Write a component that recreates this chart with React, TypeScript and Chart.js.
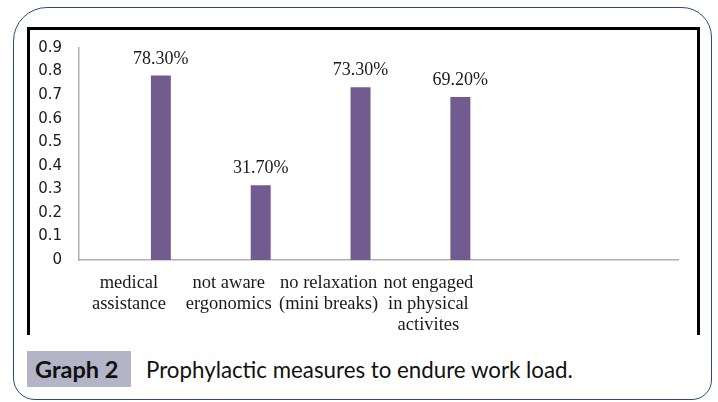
import React, { useEffect, useRef } from "react";
import { Chart, registerables } from "chart.js";

Chart.register(...registerables);

const categories: (string | string[])[] = [
  ["medical", "assistance"],
  ["not aware", "ergonomics"],
  ["no relaxation", "(mini breaks)"],
  ["not engaged", "in physical", "activites"],
  "",
  "",
];
const emptySeriesA: (number | null)[] = [null, null, null, null, null, null];
const emptySeriesB: (number | null)[] = [null, null, null, null, null, null];
const measureValues: (number | null)[] = [0.783, 0.317, 0.733, 0.692, null, null];
const yTicksMax = 0.9;
const yTickStep = 0.1;

const BAR_COLOR = "#725B8F";

const valueLabels = {
  id: "valueLabels",
  afterDatasetsDraw(chart: any) {
    const ctx = chart.ctx;
    chart.data.datasets.forEach((ds: any, di: number) => {
      const meta = chart.getDatasetMeta(di);
      meta.data.forEach((el: any, i: number) => {
        const v = ds.data[i];
        if (v == null) return;
        ctx.save();
        ctx.font = '18px "Liberation Serif"';
        ctx.fillStyle = "#1a1a1a";
        ctx.textAlign = "center";
        ctx.textBaseline = "alphabetic";
        ctx.fillText((v * 100).toFixed(2) + "%", el.x, el.y - 12);
        ctx.restore();
      });
    });
  },
};

export default function App() {
  const ref = useRef<HTMLCanvasElement>(null);
  useEffect(() => {
    if (!ref.current) return;
    const chart = new Chart(ref.current, {
      type: "bar",
      data: {
        labels: categories,
        datasets: [
          { label: "a", data: emptySeriesA, backgroundColor: BAR_COLOR },
          { label: "b", data: emptySeriesB, backgroundColor: BAR_COLOR },
          { label: "Prophylactic measures", data: measureValues, backgroundColor: BAR_COLOR },
        ],
      },
      options: {
        responsive: false,
        animation: false,
        devicePixelRatio: 1,
        layout: { padding: { left: 20, top: 48, right: 40, bottom: 0 } },
        datasets: { bar: { categoryPercentage: 0.96, barPercentage: 0.625 } },
        plugins: { legend: { display: false }, tooltip: { enabled: false } },
        scales: {
          x: {
            grid: { display: false, drawTicks: false },
            border: { display: true, color: "#b0b0b0", width: 1.5 },
            ticks: {
              color: "#1a1a1a",
              font: { family: '"Liberation Serif"', size: 18.5, lineHeight: 1.12 },
              padding: 13,
              maxRotation: 0,
              autoSkip: false,
            },
            afterFit(scale: any) {
              scale.height = 85;
            },
          },
          y: {
            min: 0,
            max: yTicksMax,
            grid: { display: false, drawTicks: false },
            border: { display: true, color: "#b0b0b0", width: 1.5 },
            ticks: {
              stepSize: yTickStep,
              color: "#1a1a1a",
              font: { family: '"DejaVu Sans"', size: 15 },
              padding: 17,
              callback: (v: any) => (v === 0 ? "0" : Number(v).toFixed(1)),
            },
            afterFit(scale: any) {
              scale.width = 59;
            },
          },
        },
      },
      plugins: [valueLabels],
    });
    return () => chart.destroy();
  }, []);

  return (
    <div style={{ position: "absolute", left: 0, top: 0, width: 718, height: 402, background: "#fff" }}>
      <div
        style={{
          position: "absolute",
          left: 13,
          top: 7,
          width: 699,
          height: 393,
          boxSizing: "border-box",
          border: "1.5px solid #2d4a78",
          borderRadius: "34px 30px 20px 22px",
        }}
      />
      <div
        style={{
          position: "absolute",
          left: 27,
          top: 27,
          width: 673,
          height: 308,
          boxSizing: "border-box",
          borderTop: "3px solid #000",
          borderLeft: "3px solid #000",
          borderRight: "3px solid #000",
        }}
      />
      <canvas
        ref={ref}
        width={718}
        height={345}
        style={{ position: "absolute", left: 0, top: 0, width: 718, height: 345 }}
      />
      <div
        style={{
          position: "absolute",
          left: 27,
          top: 351,
          width: 104,
          height: 36,
          background: "#b3b5c7",
          fontFamily: "Lato",
          fontWeight: 700,
          fontSize: 23.5,
          lineHeight: "37px",
          color: "#111",
          paddingLeft: 8,
          boxSizing: "border-box",
          whiteSpace: "nowrap",
        }}
      >
        Graph 2
      </div>
      <div
        style={{
          position: "absolute",
          left: 146,
          top: 351,
          height: 36,
          fontFamily: "Lato",
          fontSize: 22.3,
          lineHeight: "37px",
          color: "#111",
          whiteSpace: "nowrap",
        }}
      >
        Prophylactic measures to endure work load.
      </div>
    </div>
  );
}
